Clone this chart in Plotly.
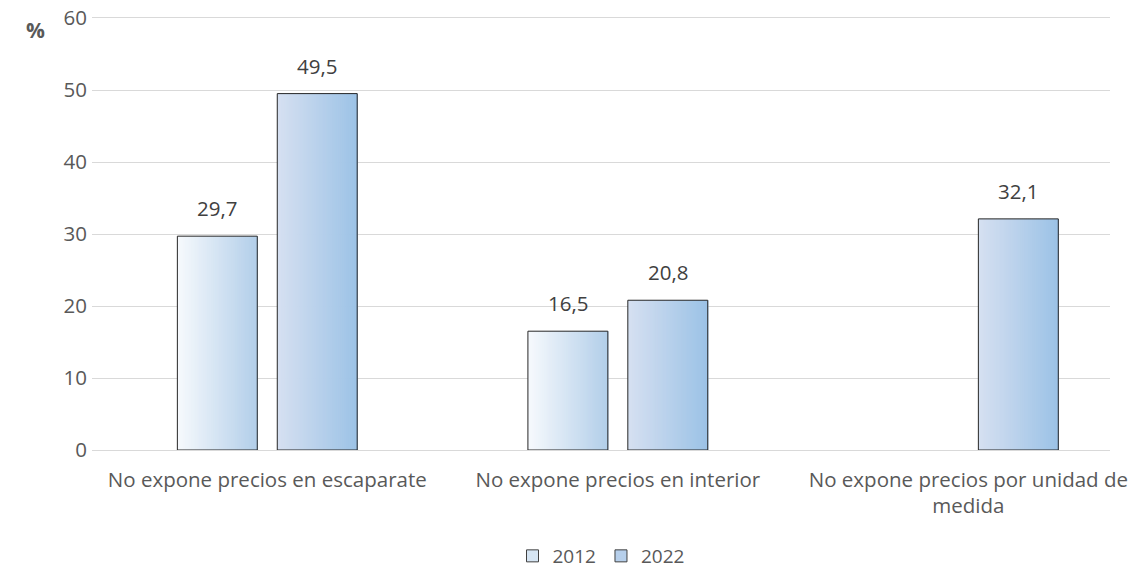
import plotly.graph_objects as go

categories = ["No expone precios en escaparate", "No expone precios en interior",
              "No expone precios por unidad de<br>medida"]
years = ["2012", "2022"]
values_2012 = [29.7, 16.5, None]
values_2022 = [49.5, 20.8, 32.1]
y_ticks = [0, 10, 20, 30, 40, 50, 60]

W, H = 1137, 576
ML, MR, MT, MB = 92, 27, 18, 126
FS = 20.5
x_pos = list(range(len(categories)))
bw = 0.228
offsets = {"2012": -0.2565, "2022": 0.0285}
grad = {"2012": ((247, 250, 253), (178, 206, 233)),
        "2022": ((214, 224, 241), (155, 194, 230))}
mid = {"2012": "#d6e5f3", "2022": "#b6cfeb"}
series = {"2012": values_2012, "2022": values_2022}

fig = go.Figure()
N = 40
annotations = []
for yr in years:
    vals = series[yr]
    c0, c1 = grad[yr]
    for i in range(N):
        t = (i + 0.5) / N
        col = "rgb(%d,%d,%d)" % tuple(round(a + (b - a) * t) for a, b in zip(c0, c1))
        fig.add_trace(go.Bar(x=x_pos, y=vals, width=bw / N + 0.002,
                             offset=offsets[yr] + i * bw / N,
                             marker=dict(color=col, line=dict(width=0)),
                             showlegend=False, hoverinfo="skip"))
    fig.add_trace(go.Bar(x=x_pos, y=vals, width=bw, offset=offsets[yr],
                         marker=dict(color="rgba(0,0,0,0)", line=dict(color="#262626", width=1)),
                         showlegend=False, hoverinfo="skip"))
    for p, v in zip(x_pos, vals):
        if v is None:
            continue
        annotations.append(dict(x=p + offsets[yr] + bw / 2, y=v, xref="x", yref="y",
                                text=f"{v:.1f}".replace(".", ","), showarrow=False,
                                yanchor="bottom", yshift=12,
                                font=dict(size=FS, color="#404040", family="Open Sans")))
    fig.add_trace(go.Bar(x=[None], y=[None], name=yr,
                         marker=dict(color=mid[yr], line=dict(color="#404040", width=1))))

annotations.append(dict(text="<b>%</b>", xref="paper", yref="paper",
                        x=(35 - ML) / (W - ML - MR), y=(H - MB - 30) / (H - MT - MB),
                        xanchor="center", yanchor="middle", showarrow=False,
                        font=dict(size=21, color="#595959", family="Open Sans")))

fig.update_layout(
    width=W, height=H, barmode="overlay",
    margin=dict(l=ML, r=MR, t=MT, b=MB, autoexpand=False),
    plot_bgcolor="white", paper_bgcolor="white",
    font=dict(family="Open Sans", size=FS, color="#595959"),
    xaxis=dict(range=[-0.5, 2.404], tickmode="array", tickvals=x_pos, ticktext=categories,
               showgrid=False, zeroline=False, showline=True, linecolor="#d9d9d9",
               linewidth=1, mirror=True, ticks="", automargin=False,
               ticklabelstandoff=11, tickfont=dict(size=FS, color="#595959")),
    yaxis=dict(range=[0, 60], tickvals=y_ticks, showgrid=True, gridcolor="#d9d9d9",
               gridwidth=1, zeroline=True, zerolinecolor="#d9d9d9", zerolinewidth=1,
               showline=False, ticks="", ticklabelstandoff=4, automargin=False,
               tickfont=dict(size=FS, color="#595959")),
    legend=dict(orientation="h", x=0.5, xanchor="center", y=(450 - 575) / 432,
                yanchor="bottom", font=dict(size=19, color="#595959"), itemwidth=30,
                traceorder="normal"),
    annotations=annotations,
)

fig.write_html("out.html")
